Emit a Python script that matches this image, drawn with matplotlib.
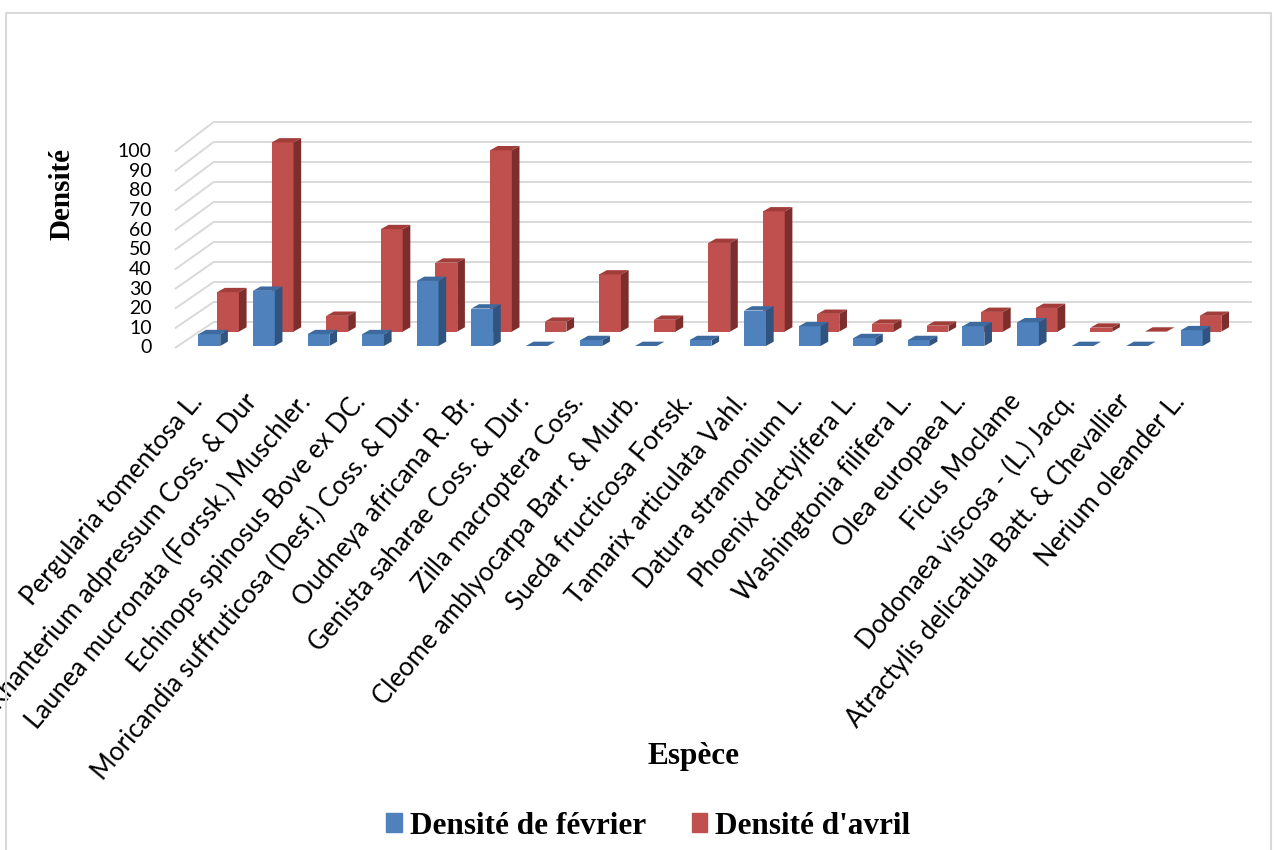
import numpy as np
import matplotlib.pyplot as plt
from matplotlib.patches import Polygon, Patch, Rectangle

especes = [
    "Pergularia tomentosa L.",
    "Rhanterium adpressum Coss. & Dur",
    "Launea mucronata (Forssk.) Muschler.",
    "Echinops spinosus Bove ex DC.",
    "Moricandia suffruticosa (Desf.) Coss. & Dur.",
    "Oudneya africana R. Br.",
    "Genista saharae Coss. & Dur.",
    "Zilla macroptera Coss.",
    "Cleome amblyocarpa Barr. & Murb.",
    "Sueda fructicosa Forssk.",
    "Tamarix articulata Vahl.",
    "Datura stramonium L.",
    "Phoenix dactylifera L.",
    "Washingtonia filifera L.",
    "Olea europaea L.",
    "Ficus Moclame",
    "Dodonaea viscosa - (L.) Jacq.",
    "Atractylis delicatula Batt. & Chevallier",
    "Nerium oleander L.",
]
densite_fevrier = [6, 28, 6, 6, 33, 19, 0, 3, 0, 3, 18, 10, 4, 3, 10, 12, 0, 0, 8]
densite_avril = [20, 96, 8, 52, 35, 92, 5, 29, 6, 45, 61, 9, 4, 3, 10, 12, 2, 0, 8]
y_ticks = [0, 10, 20, 30, 40, 50, 60, 70, 80, 90, 100]

# colours: front, top, side
bleu = ("#4F81BD", "#3D6A9F", "#30547F")
rouge = ("#C0504D", "#A33D3A", "#7D2E2C")

W = 0.40          # bar width (category units)
BAR_DX, BAR_DY = 0.14, 2.2     # depth of one bar
ROW_DX, ROW_DY = 0.343, 7.3    # offset of the back row
WALL_X0, WALL_X1, WALL_XR = -0.63, 0.07, 19.1
FLOOR_Y, WALL_Y = -1.0, 12.0

fig = plt.figure(figsize=(12.76, 8.5), dpi=100)
ax = fig.add_axes([0, 0, 1, 1])
ax.set_xlim(-3.835, 19.544)
ax.set_ylim(-255.8, 175.6)
ax.axis("off")

# chart border
fig.add_artist(Rectangle((6 / 1276, -0.05), 1265 / 1276, 1.05 - 13 / 850,
                         transform=fig.transFigure, fill=False,
                         edgecolor="#D9D9D9", lw=1.5))

# walls: side diagonals + back gridlines
grid_c = "#D9D9D9"
for g in y_ticks:
    yf = FLOOR_Y + 0.9965 * g
    yb = WALL_Y + 1.015 * g
    ax.plot([WALL_X0, WALL_X1], [yf, yb], color=grid_c, lw=1.4, zorder=1,
            solid_capstyle="butt")
    ax.plot([WALL_X1, WALL_XR], [yb, yb], color=grid_c, lw=1.4, zorder=1,
            solid_capstyle="butt")
    ax.text(-1.055, yf, str(g), ha="right", va="center", fontsize=14,
            family="Lato")


def colonnes(vals, dx, dy, cols, z):
    x = np.arange(len(vals)) + dx
    ax.bar(x, vals, width=W, bottom=dy, color=cols[0], zorder=z,
           edgecolor="none")
    for xi, v in zip(x, vals):
        l, r, b, t = xi - W / 2, xi + W / 2, dy, dy + v
        top = [(l, t), (r, t), (r + BAR_DX, t + BAR_DY), (l + BAR_DX, t + BAR_DY)]
        side = [(r, b), (r + BAR_DX, b + BAR_DY), (r + BAR_DX, t + BAR_DY), (r, t)]
        ax.add_patch(Polygon(top, closed=True, facecolor=cols[1],
                             edgecolor="none", zorder=z))
        ax.add_patch(Polygon(side, closed=True, facecolor=cols[2],
                             edgecolor="none", zorder=z))


colonnes(densite_avril, ROW_DX, ROW_DY, rouge, 2)
colonnes(densite_fevrier, 0, 0, bleu, 3)

for i, nom in enumerate(especes):
    ax.text(i - 0.04, -22.0, nom, rotation=50, ha="right", va="top",
            fontsize=18.5, family="Lato")

serif = dict(family="Liberation Serif", weight="bold")
fig.text(62 / 1276, 1 - 194 / 850, "Densité", rotation=90, ha="center",
         va="center", fontsize=21, **serif)
fig.text(694 / 1276, 1 - 763.6 / 850, "Espèce", ha="center", va="baseline",
         fontsize=22.5, **serif)

handles = [Patch(color=bleu[0]), Patch(color=rouge[0])]
fig.legend(handles, ["Densité de février", "Densité d'avril"], loc="center",
           bbox_to_anchor=(648.5 / 1276, 1 - 826 / 850), ncol=2, frameon=False,
           handlelength=0.5, handleheight=0.55, handletextpad=0.26,
           columnspacing=1.45, prop=dict(family="Liberation Serif",
                                         weight="bold", size=22.5))

fig.savefig("out.png", dpi=100)
